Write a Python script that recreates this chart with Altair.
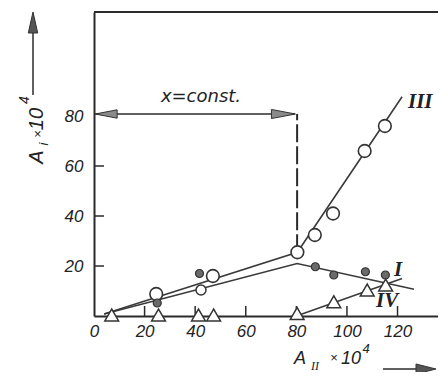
import altair as alt
import pandas as pd

# ---- data (units: x10^4) ----
# Curve III (open circles)
iii_x = [24.6, 47.0, 80.4, 87.3, 94.5, 107.0, 115.0]
iii_y = [8.8, 16.0, 25.5, 32.4, 41.0, 66.0, 76.0]
iii_line_x = [4.0, 80.4, 121.8]
iii_line_y = [0.8, 25.5, 87.7]

# Curve I
i_line_x = [4.0, 80.3, 126.5]
i_line_y = [0.8, 21.0, 10.7]
i_open_x = [42.3]
i_open_y = [10.4]
filled_x = [25.0, 41.7, 87.5, 94.8, 107.3, 115.2]
filled_y = [5.2, 17.0, 19.7, 16.4, 17.7, 16.4]

# Curve IV (triangles)
iv_x = [7.0, 25.5, 41.3, 47.3, 80.3, 94.8, 108.0, 115.3]
iv_y = [0.4, 0.4, 0.4, 0.4, 1.0, 5.7, 10.4, 12.4]
iv_line_x = [80.0, 121.8]
iv_line_y = [0.0, 15.0]

x_ticks = [0, 20, 40, 60, 80, 100, 120]
y_ticks = [20, 40, 60, 80]
x_inner_ticks = [20, 40, 60, 80, 100, 120]
y_inner_ticks = [20, 40, 60]

const_x = 80.3          # x = const. boundary
const_level = 80.8      # height of the double arrow
const_bottom = 25.5

curve_labels = ["III", "I", "IV"]
curve_label_x = [129.0, 120.2, 115.9]
curve_label_y = [85.6, 18.4, 6.0]

W, H = 344, 304
XD = [0, 136.0]
YD = [0, 121.6]
INK = "#2b2b2b"

def X(f="x"):
    return alt.X(f"{f}:Q", scale=alt.Scale(domain=XD, nice=False, zero=False),
                 axis=alt.Axis(values=x_ticks, title=None, grid=False, ticks=False,
                               labelPadding=7, labelFont="Liberation Sans",
                               labelFontStyle="italic", labelFontSize=17,
                               labelColor="#222", domainColor=INK, domainWidth=2,
                               labelFlush=False))

def Y(f="y"):
    return alt.Y(f"{f}:Q", scale=alt.Scale(domain=YD, nice=False, zero=False),
                 axis=alt.Axis(values=y_ticks, title=None, grid=False, ticks=False,
                               labelPadding=11, labelFont="Liberation Sans",
                               labelFontStyle="italic", labelFontSize=17,
                               labelColor="#222", domainColor=INK, domainWidth=2,
                               labelFlush=False))

one = pd.DataFrame({"k": [0]})

def txt(s, x, y, size, angle=0, style="italic", font="Liberation Sans", weight="normal", baseline="alphabetic"):
    return alt.Chart(one).mark_text(text=s, font=font, fontSize=size, fontStyle=style,
                                    fontWeight=weight, color="#222", angle=angle,
                                    align="center", baseline=baseline).encode(
        x=alt.value(x), y=alt.value(y))

df_iii_line = pd.DataFrame({"x": iii_line_x, "y": iii_line_y})
df_i_line = pd.DataFrame({"x": i_line_x, "y": i_line_y})
df_iv_line = pd.DataFrame({"x": iv_line_x, "y": iv_line_y})
df_iii = pd.DataFrame({"x": iii_x, "y": iii_y})
df_i_open = pd.DataFrame({"x": i_open_x, "y": i_open_y})
df_filled = pd.DataFrame({"x": filled_x, "y": filled_y})
df_iv = pd.DataFrame({"x": iv_x, "y": iv_y})
df_xt = pd.DataFrame({"x": x_inner_ticks})
df_yt = pd.DataFrame({"y": y_inner_ticks})
df_lab = pd.DataFrame({"t": curve_labels, "x": curve_label_x, "y": curve_label_y})

base_axes = alt.Chart(df_iii_line).mark_line(color="#3a3a3a", strokeWidth=1.6).encode(x=X(), y=Y())
line_i = alt.Chart(df_i_line).mark_line(color="#3a3a3a", strokeWidth=1.6).encode(x=X(), y=Y())
line_iv = alt.Chart(df_iv_line).mark_line(color="#3a3a3a", strokeWidth=1.6).encode(x=X(), y=Y())

pts_iii = alt.Chart(df_iii).mark_point(shape="circle", size=160, filled=True, fill="white",
                                        stroke="#333", strokeWidth=1.6, opacity=1).encode(x=X(), y=Y())
pts_i = alt.Chart(df_i_open).mark_point(shape="circle", size=100, filled=True, fill="white",
                                         stroke="#333", strokeWidth=1.5, opacity=1).encode(x=X(), y=Y())
pts_f = alt.Chart(df_filled).mark_point(shape="circle", size=64, filled=True, fill="#6a6a6a",
                                         stroke="#333", strokeWidth=1.2, opacity=1).encode(x=X(), y=Y())
pts_iv = alt.Chart(df_iv).mark_point(shape="triangle-up", size=190, filled=True, fill="white",
                                      stroke="#333", strokeWidth=1.5, opacity=1).encode(x=X(), y=Y())

xt = alt.Chart(df_xt).mark_rule(color=INK, strokeWidth=1.5).encode(
    x=X(), y=alt.value(H), y2=alt.value(H - 10))
yt = alt.Chart(df_yt).mark_rule(color=INK, strokeWidth=1.5).encode(
    y=Y(), x=alt.value(0), x2=alt.value(10))
top = alt.Chart(one).mark_rule(color=INK, strokeWidth=2).encode(
    x=alt.value(0), x2=alt.value(W), y=alt.value(0))

dash = alt.Chart(pd.DataFrame({"x": [const_x], "y": [const_bottom], "y2": [const_level]})).mark_rule(
    color=INK, strokeWidth=2, strokeDash=[18, 4]).encode(x=X(), y=Y(), y2="y2:Q")
harrow = alt.Chart(pd.DataFrame({"x": [0.5], "x2": [const_x - 1], "y": [const_level]})).mark_rule(
    color=INK, strokeWidth=1.5).encode(x=X(), x2="x2:Q", y=Y())
head_l = alt.Chart(pd.DataFrame({"x": [4.8], "y": [const_level]})).mark_point(
    shape="M -1 0 L 1 -0.38 L 1 0.38 Z", size=484, filled=True, fill="#8a8a8a",
    stroke="#333", strokeWidth=1, opacity=1).encode(x=X(), y=Y())
head_r = alt.Chart(pd.DataFrame({"x": [const_x - 5.4], "y": [const_level]})).mark_point(
    shape="M 1 0 L -1 -0.38 L -1 0.38 Z", size=576, filled=True, fill="#8a8a8a",
    stroke="#333", strokeWidth=1, opacity=1).encode(x=X(), y=Y())
const_txt = alt.Chart(pd.DataFrame({"x": [42.3], "y": [85.8]})).mark_text(
    text="x=const.", font="DejaVu Sans", fontStyle="italic", fontSize=18, color="#222",
    align="center", baseline="alphabetic").encode(x=X(), y=Y())

labels = alt.Chart(df_lab).mark_text(font="Liberation Serif", fontStyle="italic", fontWeight="bold",
                                      fontSize=21, color="#222", align="center",
                                      baseline="middle").encode(x=X(), y=Y(), text="t:N")

# axis titles with arrows
y_arrow = alt.Chart(one).mark_rule(color=INK, strokeWidth=1.5).encode(
    x=alt.value(-61), y=alt.value(83), y2=alt.value(8))
y_head = alt.Chart(one).mark_point(shape="M 0 -1 L 0.45 1 L -0.45 1 Z", size=441, filled=True,
                                    fill="#555", stroke="#333", strokeWidth=1, opacity=1).encode(
    x=alt.value(-61), y=alt.value(10.5))
x_arrow = alt.Chart(one).mark_rule(color=INK, strokeWidth=1.5).encode(
    x=alt.value(289), x2=alt.value(326), y=alt.value(357))
x_head = alt.Chart(one).mark_point(shape="M 1 0 L -1 -0.5 L -1 0.5 Z", size=400, filled=True,
                                    fill="#555", stroke="#333", strokeWidth=1, opacity=1).encode(
    x=alt.value(332), y=alt.value(357))

ytitle = [
    txt("A", -51, 145, 20, angle=270),
    txt("i", -46, 132, 13, angle=270),
    txt("×", -52, 122, 13, angle=270, style="normal"),
    txt("10", -51, 107, 20, angle=270),
    txt("4", -65, 88, 14, angle=270),
]
xtitle = [
    txt("A", 206, 352, 18),
    txt("II", 221, 358, 12, font="Liberation Serif"),
    txt("×", 240, 350, 13, style="normal"),
    txt("10", 257, 352, 18),
    txt("4", 272, 341, 13),
]

chart = alt.layer(
    base_axes, line_i, line_iv, xt, yt, top, dash, harrow, head_l, head_r, const_txt,
    pts_iii, pts_i, pts_f, pts_iv, labels, y_arrow, y_head, x_arrow, x_head,
    *ytitle, *xtitle
).properties(
    width=W, height=H,
    autosize=alt.AutoSizeParams(type="none"),
    padding={"left": 86, "top": 4, "right": 0, "bottom": 56},
    background="white",
).configure_view(stroke=None)

chart.save("out.html", embed_options={"renderer": "svg", "actions": False})
